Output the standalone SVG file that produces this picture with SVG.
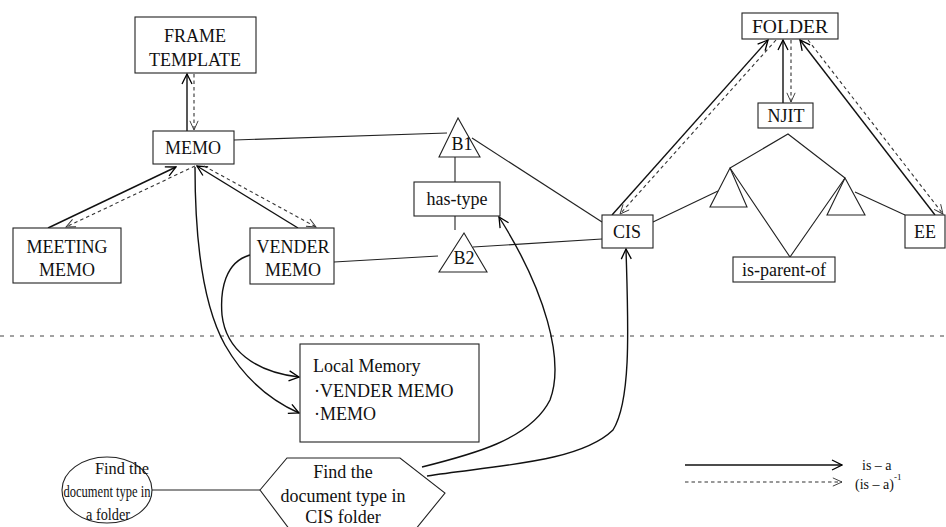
<svg xmlns="http://www.w3.org/2000/svg" width="946" height="527" viewBox="0 0 946 527">
<defs>
<marker id="ah" viewBox="0 0 12 12" refX="11" refY="6" markerWidth="12" markerHeight="12" markerUnits="userSpaceOnUse" orient="auto">
<path d="M1,1 L11,6 L1,11" fill="none" stroke="#000" stroke-width="1.3" stroke-dasharray="none"/>
</marker>
<marker id="ahd" viewBox="0 0 12 12" refX="11" refY="6" markerWidth="11" markerHeight="11" markerUnits="userSpaceOnUse" orient="auto">
<path d="M1,1.5 L11,6 L1,10.5" fill="none" stroke="#333" stroke-width="1" stroke-dasharray="none"/>
</marker>
</defs>
<style>
.bx{fill:#fff;stroke:#222;stroke-width:1.1}
.tri{fill:none;stroke:#222;stroke-width:1.1}
text{font-family:"Liberation Serif","Times New Roman",serif;font-size:18px;fill:#111;text-anchor:middle;dominant-baseline:central}
.lm{text-anchor:start}
.sm{font-size:16px}
.lg{font-size:14px;text-anchor:start}
.sup{font-size:9px}
.ln{fill:none;stroke:#222;stroke-width:1.1}
.sa{fill:none;stroke:#111;stroke-width:1.4;marker-end:url(#ah)}
.da{fill:none;stroke:#333;stroke-width:1.1;stroke-dasharray:3.5 3;marker-end:url(#ahd)}
.sep{fill:none;stroke:#444;stroke-width:1;stroke-dasharray:4 6}
</style>
<rect width="946" height="527" fill="#fff"/>
<line class="sep" x1="0" y1="336" x2="946" y2="336"/>
<g id="connectors">
<line class="ln" x1="234" y1="140" x2="447" y2="133"/>
<line class="ln" x1="455" y1="157" x2="455" y2="182"/>
<line class="ln" x1="455" y1="216" x2="455" y2="230"/>
<line class="ln" x1="334" y1="262" x2="438" y2="256"/>
<line class="ln" x1="472" y1="138" x2="602" y2="222"/>
<line class="ln" x1="473" y1="247" x2="602" y2="239"/>
<line class="ln" x1="653" y1="222" x2="718" y2="191"/>
<line class="ln" x1="855" y1="192" x2="905" y2="215"/>
<polyline class="ln" points="730,168 788,134 845,178"/>
<polyline class="ln" points="730,168 790,257 845,178"/>
<line class="ln" x1="152" y1="490" x2="260" y2="490"/>
<line class="sa" x1="187" y1="131" x2="187" y2="74"/>
<line class="da" x1="194" y1="74" x2="194" y2="130"/>
<line class="sa" x1="48" y1="228" x2="176" y2="167"/>
<line class="da" x1="195" y1="166" x2="66" y2="227"/>
<line class="sa" x1="298" y1="228" x2="197" y2="166"/>
<line class="da" x1="204" y1="166" x2="316" y2="227"/>
<path class="sa" d="M195,167 C195,230 200,300 225,345 C245,380 270,400 299,413"/>
<path class="sa" d="M250,255 C225,262 220,290 222,315 C226,350 255,372 299,377"/>
<line class="sa" x1="783" y1="103" x2="783" y2="40"/>
<line class="da" x1="791" y1="40" x2="791" y2="102"/>
<line class="sa" x1="612" y1="215" x2="768" y2="40"/>
<line class="da" x1="776" y1="40" x2="620" y2="214"/>
<line class="sa" x1="935" y1="215" x2="800" y2="40"/>
<line class="da" x1="808" y1="40" x2="943" y2="214"/>
<path class="sa" d="M422,467 C470,455 530,440 550,400 C565,360 545,290 499,217"/>
<path class="sa" d="M427,476 C500,465 580,462 613,430 C632,400 628,320 626,249"/>
</g>
<g id="frame-template"><rect class="bx" x="135" y="17" width="121" height="56"/><text x="195" y="36">FRAME</text><text x="195" y="60">TEMPLATE</text></g>
<g id="memo"><rect class="bx" x="153" y="131" width="81" height="33"/><text x="193" y="148">MEMO</text></g>
<g id="meeting-memo"><rect class="bx" x="13" y="228" width="108" height="55"/><text x="67" y="247">MEETING</text><text x="67" y="270">MEMO</text></g>
<g id="vender-memo"><rect class="bx" x="250" y="228" width="84" height="56"/><text x="293" y="247">VENDER</text><text x="293" y="270">MEMO</text></g>
<g id="b1"><polygon class="tri" points="458,118 439,157 480,157"/><text x="462" y="144">B1</text></g>
<g id="has-type"><rect class="bx" x="414" y="182" width="86" height="34"/><text x="457" y="199">has-type</text></g>
<g id="b2"><polygon class="tri" points="464,233 439,272 487,272"/><text x="464" y="258">B2</text></g>
<g id="cis"><rect class="bx" x="602" y="215" width="51" height="33"/><text x="627" y="232">CIS</text></g>
<g id="folder"><rect class="bx" x="742" y="13" width="96" height="26"/><text x="790" y="27" textLength="76" lengthAdjust="spacingAndGlyphs">FOLDER</text></g>
<g id="njit"><rect class="bx" x="758" y="103" width="55" height="25"/><text x="786" y="116">NJIT</text></g>
<g id="ee"><rect class="bx" x="905" y="215" width="40" height="33"/><text x="925" y="232">EE</text></g>
<g id="tri-left"><polygon class="tri" points="730,168 710,207 747,207"/></g>
<g id="tri-right"><polygon class="tri" points="845,178 827,215 865,215"/></g>
<g id="is-parent-of"><rect class="bx" x="733" y="257" width="102" height="25"/><text x="784" y="270">is-parent-of</text></g>
<g id="local-memory"><rect class="bx" x="300" y="344" width="179" height="98"/><text class="lm" x="313" y="366">Local Memory</text><text class="lm" x="314" y="391">·VENDER MEMO</text><text class="lm" x="314" y="414">·MEMO</text></g>
<g id="find-folder"><ellipse class="bx" cx="107" cy="490" rx="45" ry="33"/><text class="sm" x="122" y="468" textLength="54" lengthAdjust="spacingAndGlyphs">Find  the</text><text class="sm" x="107" y="491" textLength="87" lengthAdjust="spacingAndGlyphs">document type in</text><text class="sm" x="108" y="514" textLength="44" lengthAdjust="spacingAndGlyphs">a folder</text></g>
<g id="find-cis"><polygon class="bx" points="260,490 287,458 400,458 445,493 415,530 290,530"/><text x="343" y="472">Find the</text><text x="343" y="496">document type in</text><text x="343" y="517">CIS folder</text></g>
<g id="legend">
<line class="sa" x1="685" y1="465" x2="842" y2="465"/>
<line class="da" x1="685" y1="482" x2="842" y2="482"/>
<text class="lg" x="862" y="465">is – a</text>
<text class="lg" x="855" y="484">(is – a)<tspan class="sup" dy="-7">-1</tspan></text>
</g>
</svg>
